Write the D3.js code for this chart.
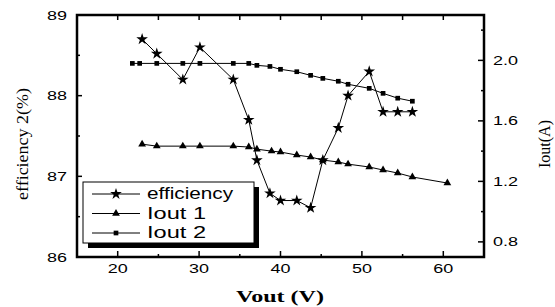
<!DOCTYPE html>
<html>
<head>
<meta charset="utf-8">
<script src="https://cdn.jsdelivr.net/npm/d3@7"></script>
<style>
  body { margin: 0; background: #fff; }
  svg { display: block; }
  text { fill: #000; }
</style>
</head>
<body>
<div id="chart"></div>
<script>
// data
let voutEff = [23, 24.8, 28, 30.1, 34.2, 36.1, 37.1, 38.7, 40, 42, 43.7, 45.2, 47.1, 48.3, 50.9, 52.6, 54.4, 56.2];
let efficiency = [88.7, 88.52, 88.2, 88.6, 88.2, 87.7, 87.2, 86.79, 86.7, 86.7, 86.61, 87.2, 87.6, 88.0, 88.3, 87.8, 87.8, 87.8];

let voutI1 = [23, 24.8, 28, 30.1, 34.2, 36.1, 37.1, 38.9, 40, 42, 43.7, 45.2, 47.1, 48.3, 50.9, 52.6, 54.4, 56.2, 60.5];
let iout1 = [1.446, 1.433, 1.433, 1.433, 1.433, 1.427, 1.413, 1.40, 1.394, 1.374, 1.361, 1.341, 1.328, 1.314, 1.295, 1.275, 1.255, 1.229, 1.189];

let voutI2 = [21.8, 22.7, 24.8, 28, 30.1, 34.2, 36.1, 37.1, 38.7, 40, 42, 43.7, 45.2, 47.1, 48.3, 50.9, 52.6, 54.4, 56.2];
let iout2 = [1.98, 1.98, 1.98, 1.98, 1.98, 1.98, 1.98, 1.967, 1.96, 1.941, 1.925, 1.901, 1.881, 1.862, 1.842, 1.815, 1.782, 1.75, 1.73];

let xTicks = [20, 30, 40, 50, 60];
let xMinor = [25, 35, 45, 55];
let effTicks = [86, 87, 88, 89];
let effMinor = [86.5, 87.5, 88.5];
let iTicks = [0.8, 1.2, 1.6, 2.0];
let iMinor = [1.0, 1.4, 1.8, 2.2];

let legendNames = ["efficiency", "Iout 1", "Iout 2"];

let width = 555, height = 307;
let pLeft = 77, pRight = 484, pTop = 15, pBottom = 257;

let svg = d3.select("#chart").append("svg")
    .attr("width", width)
    .attr("height", height)

let x = d3.scaleLinear().domain([15, 65]).range([pLeft, pRight]);
let yEff = d3.scaleLinear().domain([86, 89]).range([pBottom, pTop]);
let yI = d3.scaleLinear().domain([0.7, 2.3]).range([pBottom, pTop]);

// tick marks (all point inward)
let tk = svg.append("g").attr("stroke", "#000").attr("stroke-width", 1.5);
xTicks.forEach(v => {
    tk.append("line").attr("x1", x(v)).attr("x2", x(v)).attr("y1", pBottom).attr("y2", pBottom - 6);
    tk.append("line").attr("x1", x(v)).attr("x2", x(v)).attr("y1", pTop).attr("y2", pTop + 5);
})
xMinor.forEach(v => {
    tk.append("line").attr("x1", x(v)).attr("x2", x(v)).attr("y1", pBottom).attr("y2", pBottom - 3);
    tk.append("line").attr("x1", x(v)).attr("x2", x(v)).attr("y1", pTop).attr("y2", pTop + 5);
})
effTicks.forEach(v => {
    tk.append("line").attr("x1", pLeft).attr("x2", pLeft + 5).attr("y1", yEff(v)).attr("y2", yEff(v));
})
effMinor.forEach(v => {
    tk.append("line").attr("x1", pLeft).attr("x2", pLeft + 3).attr("y1", yEff(v)).attr("y2", yEff(v));
})
iTicks.forEach(v => {
    tk.append("line").attr("x1", pRight).attr("x2", pRight - 6).attr("y1", yI(v)).attr("y2", yI(v));
})
iMinor.forEach(v => {
    tk.append("line").attr("x1", pRight).attr("x2", pRight - 3).attr("y1", yI(v)).attr("y2", yI(v));
})

// tick labels
let lab = svg.append("g")
    .style("font-family", "Liberation Sans, Arial, sans-serif")
    .style("font-size", "12px");
xTicks.forEach(v => {
    lab.append("text").attr("x", x(v)).attr("y", 273)
        .attr("text-anchor", "middle")
        .attr("textLength", 20).attr("lengthAdjust", "spacingAndGlyphs")
        .text(v);
})
effTicks.forEach(v => {
    lab.append("text").attr("x", 67).attr("y", yEff(v) + 4.5)
        .attr("text-anchor", "end")
        .attr("textLength", 20).attr("lengthAdjust", "spacingAndGlyphs")
        .text(v);
})
iTicks.forEach(v => {
    lab.append("text").attr("x", 493).attr("y", yI(v) + 4.5)
        .attr("textLength", 25).attr("lengthAdjust", "spacingAndGlyphs")
        .text(d3.format(".1f")(v));
})

// axis titles
svg.append("text")
    .attr("x", 280).attr("y", 302)
    .attr("text-anchor", "middle")
    .style("font-family", "Liberation Serif, Times New Roman, serif")
    .style("font-size", "17px").style("font-weight", "bold")
    .attr("textLength", 88).attr("lengthAdjust", "spacingAndGlyphs")
    .text("Vout (V)");

svg.append("text")
    .attr("transform", "translate(28,144) rotate(-90)")
    .attr("text-anchor", "middle")
    .style("font-family", "Liberation Serif, Times New Roman, serif")
    .style("font-size", "17px")
    .attr("textLength", 112).attr("lengthAdjust", "spacingAndGlyphs")
    .text("efficiency 2(%)");

svg.append("text")
    .attr("transform", "translate(550,144) rotate(-90)")
    .attr("text-anchor", "middle")
    .style("font-family", "Liberation Serif, Times New Roman, serif")
    .style("font-size", "16px")
    .attr("textLength", 48).attr("lengthAdjust", "spacingAndGlyphs")
    .text("Iout(A)");

// series
let star = d3.symbol().type(d3.symbolStar).size(42);
let tri = d3.symbol().type(d3.symbolTriangle).size(26);
let sq = d3.symbol().type(d3.symbolSquare).size(22);

function series(xs, ys, yScale, sym) {
    let pts = xs.map((v, i) => [x(v), yScale(ys[i])]);
    svg.append("path")
        .attr("d", d3.line()(pts))
        .attr("fill", "none")
        .attr("stroke", "#000")
        .attr("stroke-width", 1);
    svg.append("g").selectAll("path")
        .data(pts)
        .join("path")
        .attr("transform", d => "translate(" + d[0] + "," + d[1] + ")")
        .attr("d", sym)
        .attr("fill", "#000");
}
series(voutI2, iout2, yI, sq);
series(voutI1, iout1, yI, tri);
series(voutEff, efficiency, yEff, star);

// frame
svg.append("rect")
    .attr("x", pLeft).attr("y", pTop)
    .attr("width", pRight - pLeft).attr("height", pBottom - pTop)
    .attr("fill", "none")
    .attr("stroke", "#000")
    .attr("stroke-width", 2.5);

// legend with drop shadow
let lg = svg.append("g");
lg.append("rect").attr("x", 88).attr("y", 187).attr("width", 171).attr("height", 61).attr("fill", "#000");
lg.append("rect").attr("x", 83).attr("y", 182).attr("width", 171).attr("height", 61)
    .attr("fill", "#fff").attr("stroke", "#000").attr("stroke-width", 1);
let syms = [star, tri, sq];
let lens = [86, 59, 59];
legendNames.forEach((name, i) => {
    let cy = 194 + i * 19.5;
    lg.append("line").attr("x1", 92).attr("x2", 140).attr("y1", cy).attr("y2", cy)
        .attr("stroke", "#000").attr("stroke-width", 1);
    lg.append("path").attr("transform", "translate(116," + cy + ")")
        .attr("d", syms[i]).attr("fill", "#000");
    lg.append("text").attr("x", 147).attr("y", cy + 5)
        .style("font-family", "Liberation Sans, Arial, sans-serif")
        .style("font-size", "16px")
        .attr("textLength", lens[i]).attr("lengthAdjust", "spacingAndGlyphs")
        .text(name);
})
</script>
</body>
</html>
